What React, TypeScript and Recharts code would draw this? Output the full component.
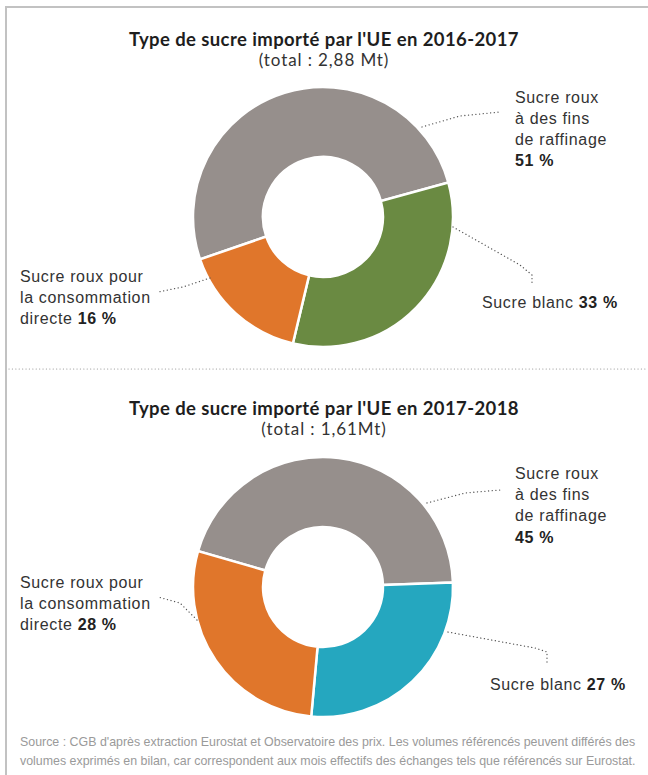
import { PieChart, Pie, Cell } from 'recharts'

// ─── Data ────────────────────────────────────────────────────────────────────

const categories = ['Sucre roux à des fins de raffinage', 'Sucre blanc', 'Sucre roux pour la consommation directe']
const shares2016 = [51, 33, 16]
const shares2018 = [45, 27, 28]

const title2016 = "Type de sucre importé par l'UE en 2016-2017"
const subtitle2016 = '(total : 2,88 Mt)'
const title2018 = "Type de sucre importé par l'UE en 2017-2018"
const subtitle2018 = '(total : 1,61Mt)'

// label text lines per category (percentage appended in bold on the last line)
const labelLines = [
  ['Sucre roux', 'à des fins', 'de raffinage', ''],
  ['Sucre blanc '],
  ['Sucre roux pour', 'la consommation', 'directe '],
]

const sourceLines = [
  "Source : CGB d'après extraction Eurostat et Observatoire des prix. Les volumes référencés peuvent différés des",
  'volumes exprimés en bilan, car correspondent aux mois effectifs des échanges tels que référencés sur Eurostat.',
]

// ─── Styling / layout ────────────────────────────────────────────────────────

const COLORS_2016 = ['#968f8c', '#6a8a42', '#e0762b']
const COLORS_2018 = ['#968f8c', '#25a7bf', '#e0762b']

const W = 648
const CHART_H = 370
const CX = 323
const CY = 217

interface LabelLayout {
  leader: [number, number][] // relative to pie centre
  x: number
  y: number[] // baselines relative to centre
}

const layout2016: LabelLayout[] = [
  { leader: [[99, -90], [137, -101], [177, -105]], x: 192, y: [-114, -93, -72, -51] },
  { leader: [[130, 10], [197, 48], [209, 58], [209, 67]], x: 159, y: [91] },
  { leader: [[-113, 61], [-140, 70], [-165, 75]], x: -303, y: [65, 86, 107] },
]

const layout2018: LabelLayout[] = [
  { leader: [[104, -84], [142, -94], [177, -97]], x: 192, y: [-108, -87, -66, -44] },
  { leader: [[125, 45], [212, 61], [224, 65], [224, 75]], x: 167, y: [103] },
  { leader: [[-126, 33], [-143, 16], [-165, 10]], x: -303, y: [1, 22, 43] },
]

const LABEL_FONT = '"Liberation Sans", Arial, sans-serif'
const TITLE_FONT = 'Lato, "Open Sans", sans-serif'

function makeLabel(shares: number[], layout: LabelLayout[]) {
  return (props: any) => {
    const { cx, cy, index } = props
    const l = layout[index]
    const lines = labelLines[index]
    const d = l.leader.map((p, i) => `${i ? 'L' : 'M'}${cx + p[0]},${cy + p[1]}`).join(' ')
    return (
      <g>
        <path
          d={d}
          fill="none"
          stroke="#555"
          strokeWidth={1.3}
          strokeLinecap="round"
          strokeDasharray="0.1 3.6"
        />
        {lines.map((t, i) => (
          <text
            key={i}
            x={cx + l.x}
            y={cy + l.y[i]}
            fill="#333"
            fontSize={16}
            fontFamily={LABEL_FONT}
            letterSpacing={0.65}
            textAnchor="start"
          >
            {t}
            {i === lines.length - 1 && (
              <tspan fontWeight="bold" fill="#222">{`${shares[index]} %`}</tspan>
            )}
          </text>
        ))}
      </g>
    )
  }
}

function Donut({ shares, colors, layout, startAngle }: {
  shares: number[]
  colors: string[]
  layout: LabelLayout[]
  startAngle: number
}) {
  const data = categories.map((name, i) => ({ name, value: shares[i] }))
  return (
    <PieChart width={W} height={CHART_H} margin={{ top: 0, right: 0, bottom: 0, left: 0 }}>
      <Pie
        data={data}
        dataKey="value"
        nameKey="name"
        cx={CX}
        cy={CY}
        innerRadius={60}
        outerRadius={130}
        startAngle={startAngle}
        endAngle={startAngle - 360}
        stroke="#fff"
        strokeWidth={2.5}
        labelLine={false}
        label={makeLabel(shares, layout)}
        isAnimationActive={false}
      >
        {data.map((d, i) => (
          <Cell key={d.name} fill={colors[i]} />
        ))}
      </Pie>
    </PieChart>
  )
}

function Heading({ title, subtitle, top }: { title: string; subtitle: string; top: number }) {
  return (
    <div style={{ position: 'absolute', left: 0, top, width: W, textAlign: 'center', fontFamily: TITLE_FONT }}>
      <div style={{ fontSize: 18.5, fontWeight: 700, color: '#1e1e1e', lineHeight: '22px', letterSpacing: 0.4 }}>{title}</div>
      <div style={{ fontSize: 17, fontWeight: 400, color: '#333', lineHeight: '20px', letterSpacing: 0.9 }}>{subtitle}</div>
    </div>
  )
}

export default function App() {
  return (
    <div style={{ position: 'absolute', left: 0, top: 0, width: W, height: 775, background: '#fff', overflow: 'hidden' }}>
      {/* frame */}
      <div style={{ position: 'absolute', left: 5, top: 6, right: 0, bottom: 0, borderLeft: '2px solid #c2c2c2', borderTop: '2px solid #c2c2c2' }} />

      <div style={{ position: 'absolute', left: 0, top: 0 }}>
        <Donut shares={shares2016} colors={COLORS_2016} layout={layout2016} startAngle={199} />
      </div>
      <div style={{ position: 'absolute', left: 0, top: CHART_H }}>
        <Donut shares={shares2018} colors={COLORS_2018} layout={layout2018} startAngle={164} />
      </div>

      <Heading title={title2016} subtitle={subtitle2016} top={28} />
      <Heading title={title2018} subtitle={subtitle2018} top={397} />

      {/* dotted separator */}
      <svg width={W} height={4} style={{ position: 'absolute', left: 0, top: 367 }}>
        <line x1={9} y1={2} x2={W} y2={2} stroke="#999" strokeWidth={1.2} strokeLinecap="round" strokeDasharray="0.1 3.3" />
      </svg>

      <div style={{ position: 'absolute', left: 20, top: 733, fontFamily: LABEL_FONT, fontSize: 12.4, lineHeight: '19px', color: '#9a9a9a', whiteSpace: 'nowrap' }}>
        {sourceLines.map((s) => (
          <div key={s}>{s}</div>
        ))}
      </div>
    </div>
  )
}
